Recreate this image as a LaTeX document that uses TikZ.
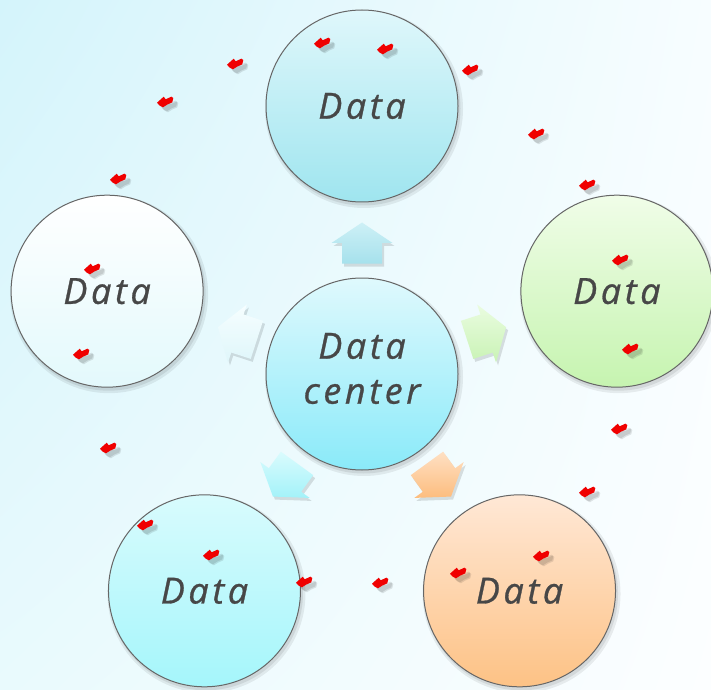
\documentclass[tikz,border=0pt]{standalone}
\usepackage{fontspec}
\newfontfamily\datafont{Open Sans}[LetterSpace=10, FakeBold=0.8]
\usetikzlibrary{calc,shadings}

\definecolor{txtgray}{HTML}{474747}
\definecolor{ringgray}{HTML}{666666}
\definecolor{markred}{HTML}{F00000}
\definecolor{bgA}{HTML}{D4F4FB}
\definecolor{bgB}{HTML}{F7FDFF}
\definecolor{bgC}{HTML}{E9FAFD}
\definecolor{bgD}{HTML}{FCFEFF}

% block arrow outline: #1 = centre coordinate, #2 = direction angle
\newcommand\arrowpath[2]{($(#1)+(#2:20.5)$) -- ($(#1)+(#2+90:30.5)$) -- ($(#1)+(#2+90:20)$)
  -- ($(#1)+(#2+180:20.5)+(#2+90:20)$) -- ($(#1)+(#2+180:20.5)+(#2-90:20)$)
  -- ($(#1)+(#2-90:20)$) -- ($(#1)+(#2-90:30.5)$) -- cycle}

\tikzset{
  labelfont/.style={font=\datafont\itshape\fontsize{36}{45}\selectfont, text=txtgray},
  bubble/.style={circle, minimum size=192pt, inner sep=0pt, draw=ringgray, line width=1pt, labelfont},
  redmark/.pic={
    \fill[black, opacity=0.10] (-4,-4.7) -- (2.7,1.3) -- (4.7,-1.3) -- (10.3,1.3) -- (12.3,0)
      -- (11.3,-4.3) -- (6,-6.7) -- (2,-9.3) -- (-1.3,-7.7) -- cycle;
    \fill[black, opacity=0.10] (-3,-5.7) -- (3.7,0.3) -- (5.7,-2.3) -- (11.3,0.3) -- (13.3,-1)
      -- (12.3,-5.3) -- (7,-7.7) -- (3,-10.3) -- (-0.3,-8.7) -- cycle;
    \fill[markred] (-8,-0.7) -- (-1.3,5.3) -- (0.7,2.7) -- (6.3,5.3) -- (8.3,4)
      -- (7.3,-0.3) -- (2,-2.7) -- (-2,-5.3) -- (-5.3,-3.7) -- cycle;
  }
}

\begin{document}
\begin{tikzpicture}[x=1pt,y=1pt]
\useasboundingbox (0,0) rectangle (711,689);
\clip (0,0) rectangle (711,689);

% backdrop
\shade[upper left=bgA, upper right=bgB, lower left=bgC, lower right=bgD] (0,0) rectangle (711,689);

% hub and the five satellite positions on a pentagon
\coordinate (C) at (362,315);
\foreach \nm/\ang in {top/90, rgt/18, brt/-54, blf/-126, lft/162} {
  \coordinate (p-\nm) at ($(C)+(\ang:268)$);
  \coordinate (a-\nm) at ($(C)+(\ang:131)$);
  \coordinate (s-\nm) at ($(C)+(\ang:131)+(2,-3)$);
}

% soft shadows under the circles
\foreach \nm in {top, rgt, brt, blf, lft} {
  \fill[black, opacity=0.07] ($(p-\nm)+(2,-3)$) circle (99);
  \fill[black, opacity=0.08] ($(p-\nm)+(1.5,-2.5)$) circle (97);
}
\fill[black, opacity=0.07] ($(C)+(2,-3)$) circle (99);
\fill[black, opacity=0.08] ($(C)+(1.5,-2.5)$) circle (97);

% block arrows from the hub
\foreach \nm/\ang/\lt/\dk in {top/90/CDF0F6/A6E1EC, rgt/18/EAFCE0/C9F3B5, brt/-54/FEE0C4/FDBD7E,
                             blf/-126/DAFBFD/A3F2F9, lft/162/F6FEFF/DFF6FA} {
  \definecolor{alt}{HTML}{\lt}\definecolor{adk}{HTML}{\dk}
  \fill[black, opacity=0.12] \arrowpath{s-\nm}{\ang};
  \shade[top color=alt, bottom color=adk] \arrowpath{a-\nm}{\ang};
}

% circles
\node[bubble, top color={rgb,255:red,223;green,247;blue,251}, bottom color={rgb,255:red,159;green,229;blue,239}] (top) at (p-top) {Data};
\node[bubble, top color={rgb,255:red,240;green,253;blue,232}, bottom color={rgb,255:red,198;green,244;blue,176}] (rgt) at (p-rgt) {Data};
\node[bubble, top color={rgb,255:red,255;green,232;blue,214}, bottom color={rgb,255:red,253;green,194;blue,133}] (brt) at (p-brt) {Data};
\node[bubble, top color={rgb,255:red,216;green,251;blue,253}, bottom color={rgb,255:red,165;green,246;blue,251}] (blf) at (p-blf) {Data};
\node[bubble, top color=white, bottom color={rgb,255:red,227;green,249;blue,252}] (lft) at (p-lft) {Data};
\node[bubble, top color={rgb,255:red,223;green,249;blue,253}, bottom color={rgb,255:red,138;green,234;blue,249}] (hub) at (C) {};
\node[labelfont, align=center, inner sep=0pt] (hubtext) at ($(C)+(0,5.5)$) {Data\\center};

% small red markers
\foreach \mx/\my [count=\k] in {322/646, 385/640, 470/619, 235/625, 165/587, 536/555, 118/510,
  587/504, 92/420, 620/429, 81/335, 630/340, 108/241, 619/260, 587/197, 145/164, 211/134,
  304/107, 380/106, 458/116, 541/133} {
  \pic (m\k) at (\mx,\my) {redmark};
}
\end{tikzpicture}
\end{document}
